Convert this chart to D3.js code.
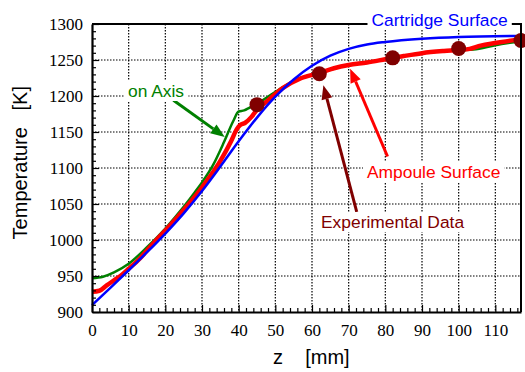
<!DOCTYPE html>
<html>
<head>
<meta charset="utf-8">
<script src="https://cdn.jsdelivr.net/npm/d3@7"></script>
<style>
  body { margin: 0; background: #fff; }
  svg { display: block; }
</style>
</head>
<body>
<svg width="525" height="372"></svg>
<script>
// axial position z [mm] and temperature [K]
const zCartridge = [0, 5, 10, 15, 20, 25, 30, 35, 40, 45, 50, 55, 60, 65, 70, 75, 80, 90, 100, 117];
const tCartridge = [909.5, 933.5, 958, 983, 1009, 1037, 1068, 1102, 1137, 1170, 1199, 1223, 1242, 1256, 1265.5, 1271.5, 1275, 1279.5, 1282, 1283.5];

const zAxis = [0, 3, 6, 10, 15, 20, 25, 28, 30, 33, 36, 38.5, 40, 41.5, 43, 45, 48, 52, 56, 62, 70, 80, 90, 96, 100, 104, 110, 117];
const tAxis = [947, 949, 955, 967, 990, 1016, 1046, 1066, 1080, 1104, 1136, 1165, 1178.5, 1180, 1184, 1189, 1199, 1212, 1223.5, 1232, 1243, 1251, 1259.5, 1262.5, 1263.5, 1264.5, 1270.5, 1276.5];

const zAmpoule = [0, 2, 4, 6, 8, 10, 13, 17, 20, 26.4, 29.4, 32, 35, 38, 39.5, 40.5, 41.7, 43.5, 45, 47.6, 52, 56.7, 62, 66, 70, 75, 80, 85, 90, 96, 100, 103, 106, 110, 117];
const tAmpoule = [928, 929.5, 937, 944, 951, 960, 974, 997, 1013, 1050, 1069, 1087, 1110, 1138, 1154, 1160, 1162.5, 1171, 1181, 1192, 1211, 1224, 1232, 1238.5, 1243, 1246.5, 1251, 1255.5, 1259.5, 1262.5, 1264, 1265.5, 1270, 1273.5, 1279];

const zExp = [45, 62, 82, 100, 117];
const tExp = [1188, 1231, 1253, 1266, 1277];

const xTicks = d3.range(0, 111, 10);
const yTicks = d3.range(900, 1301, 50);
const xMinor = d3.range(0, 118, 2).filter(v => v % 10 !== 0);
const yMinor = d3.range(900, 1300, 10).filter(v => v % 50 !== 0);

const svg = d3.select('svg');
const plotLeft = 92, plotRight = 521, plotTop = 24, plotBottom = 312;

const x = d3.scaleLinear().domain([0, 117]).range([plotLeft, plotRight]);
const y = d3.scaleLinear().domain([900, 1300]).range([plotBottom, plotTop]);

// dotted grid
const grid = svg.append('g')
    .attr('stroke', '#000')
    .attr('stroke-width', 1.2)
    .attr('stroke-dasharray', '1.5,1.5');
grid.selectAll('.gx')
    .data(xTicks.filter(v => v > 0))
    .enter().append('line')
    .attr('x1', d => x(d)).attr('x2', d => x(d))
    .attr('y1', plotTop).attr('y2', plotBottom);
grid.selectAll('.gy')
    .data(yTicks.filter(v => v > 900 && v < 1300))
    .enter().append('line')
    .attr('x1', plotLeft).attr('x2', plotRight)
    .attr('y1', d => y(d)).attr('y2', d => y(d));

// curves
const line = d3.line()
    .x(d => x(d[0]))
    .y(d => y(d[1]))
    .curve(d3.curveMonotoneX);

const series = [
    { z: zAxis, t: tAxis, color: '#008000', width: 2.5 },
    { z: zAmpoule, t: tAmpoule, color: '#ff0000', width: 4.5 },
    { z: zCartridge, t: tCartridge, color: '#0000ff', width: 2.5 }
];
series.forEach(s => {
    svg.append('path')
        .datum(s.z.map((v, i) => [v, s.t[i]]))
        .attr('fill', 'none')
        .attr('stroke', s.color)
        .attr('stroke-width', s.width)
        .attr('stroke-linejoin', 'round')
        .attr('d', line);
});

// experimental points
svg.selectAll('.dot')
    .data(zExp.map((v, i) => [v, tExp[i]]))
    .enter().append('circle')
    .attr('cx', d => x(d[0]))
    .attr('cy', d => y(d[1]))
    .attr('r', 7.5)
    .attr('fill', '#800000');

// axes with inward ticks
const serif = '"Liberation Serif", "Times New Roman", Times, serif';
const tickFont = g => {
    g.attr('font-family', serif).attr('font-size', 17);
    g.selectAll('text').attr('fill', '#000');
};

svg.append('g')
    .attr('transform', `translate(0,${plotBottom})`)
    .call(d3.axisBottom(x).tickValues(xMinor).tickSize(-4).tickFormat(''))
    .call(g => g.select('.domain').remove())
    .call(g => g.selectAll('line').attr('stroke-width', 1.2));
svg.append('g')
    .attr('transform', `translate(0,${plotBottom})`)
    .call(d3.axisBottom(x).tickValues(xTicks).tickSize(-7).tickPadding(12)
        .tickSizeOuter(0).tickFormat(d3.format('d')))
    .call(tickFont)
    .call(g => g.select('.domain').attr('stroke-width', 2.2))
    .call(g => g.selectAll('line').attr('stroke-width', 1.2));

svg.append('g')
    .attr('transform', `translate(${plotLeft},0)`)
    .call(d3.axisLeft(y).tickValues(yMinor).tickSize(-4).tickFormat(''))
    .call(g => g.select('.domain').remove())
    .call(g => g.selectAll('line').attr('stroke-width', 1.2));
svg.append('g')
    .attr('transform', `translate(${plotLeft},0)`)
    .call(d3.axisLeft(y).tickValues(yTicks).tickSize(-7).tickPadding(9)
        .tickSizeOuter(0).tickFormat(d3.format('d')))
    .call(tickFont)
    .call(g => g.select('.domain').attr('stroke-width', 2.2))
    .call(g => g.selectAll('line').attr('stroke-width', 1.2));

// top and right frame
svg.append('path')
    .attr('d', `M${plotLeft},${plotTop}H${plotRight}V${plotBottom}`)
    .attr('fill', 'none')
    .attr('stroke', '#000')
    .attr('stroke-width', 2);

// axis titles
const sans = '"Liberation Sans", Arial, sans-serif';
svg.append('text')
    .attr('x', 273).attr('y', 364)
    .style('font-family', sans).style('font-size', '20px')
    .style('white-space', 'pre')
    .text('z    [mm]');
svg.append('text')
    .attr('transform', 'translate(27,86) rotate(-90)')
    .attr('text-anchor', 'end')
    .style('font-family', sans).style('font-size', '20px')
    .style('white-space', 'pre')
    .text('Temperature   [K]');

// annotations: arrows in data coordinates
function arrow(z1, t1, z2, t2, color) {
    const x1 = x(z1), y1 = y(t1), x2 = x(z2), y2 = y(t2);
    const a = Math.atan2(y2 - y1, x2 - x1);
    const len = 14, half = 5.5;
    const bx = x2 - len * Math.cos(a), by = y2 - len * Math.sin(a);
    svg.append('line')
        .attr('x1', x1).attr('y1', y1).attr('x2', bx).attr('y2', by)
        .attr('stroke', color).attr('stroke-width', 3);
    svg.append('polygon')
        .attr('points', [
            [x2, y2],
            [bx + half * Math.sin(a), by - half * Math.cos(a)],
            [bx - half * Math.sin(a), by + half * Math.cos(a)]
        ].map(p => p.join(',')).join(' '))
        .attr('fill', color);
}

function label(px, py, txt, color) {
    const t = svg.append('text')
        .attr('x', px).attr('y', py)
        .attr('fill', color)
        .style('font-family', sans).style('font-size', '17.4px')
        .text(txt);
    const b = t.node().getBBox();
    svg.insert('rect', () => t.node())
        .attr('x', b.x - 4).attr('y', b.y)
        .attr('width', b.width + 8).attr('height', b.height)
        .attr('fill', '#fff');
}

arrow(22.2, 1194, 36.2, 1143, '#008000');
arrow(80.6, 1116, 70.4, 1238, '#ff0000');
arrow(72.2, 1039, 63.1, 1215, '#800000');

label(128, 97, 'on Axis', '#008000');
label(371.5, 26, 'Cartridge Surface', '#0000ff');
label(367, 178, 'Ampoule Surface', '#ff0000');
label(321, 228, 'Experimental Data', '#800000');
</script>
</body>
</html>
